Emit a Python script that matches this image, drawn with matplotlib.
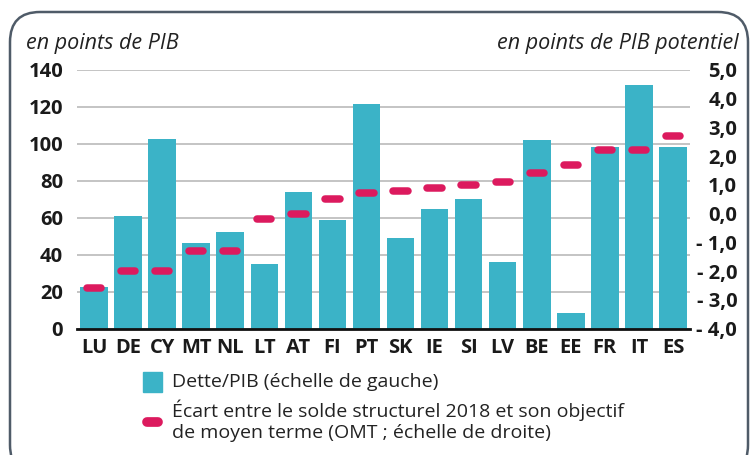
import matplotlib
matplotlib.use("Agg")
import matplotlib.pyplot as plt
from matplotlib.patches import FancyBboxPatch, Rectangle
from matplotlib.lines import Line2D
import numpy as np

countries = ["LU", "DE", "CY", "MT", "NL", "LT", "AT", "FI", "PT", "SK",
             "IE", "SI", "LV", "BE", "EE", "FR", "IT", "ES"]
dette_pib = [22.4, 61, 102.5, 46.5, 52.4, 34.8, 74, 58.8, 121.2, 49.2,
             64.9, 70.3, 36.2, 101.8, 8.7, 98.2, 131.8, 98.2]
ecart_omt = [-2.6, -2.0, -2.0, -1.3, -1.3, -0.2, 0.0, 0.5, 0.7, 0.8,
             0.9, 1.0, 1.1, 1.4, 1.7, 2.2, 2.2, 2.7]
left_ticks = [0, 20, 40, 60, 80, 100, 120, 140]
right_ticks = [-4, -3, -2, -1, 0, 1, 2, 3, 4, 5]

BAR = "#3bb3c7"
PINK = "#dc1a5e"
FONT = "Open Sans"

plt.rcParams['font.family'] = [FONT, 'DejaVu Sans']

W, H = 751, 455
fig = plt.figure(figsize=(W / 100, H / 100), dpi=100)
ax = fig.add_axes([77 / W, 1 - 328.7 / H, (690 - 77) / W, (328.7 - 69.7) / H])
ax2 = ax.twinx()

x = np.arange(len(countries))
ax.bar(x, dette_pib, width=0.81, color=BAR, zorder=2)
ax.set_xlim(-0.5, len(countries) - 0.5)
ax.set_ylim(0, 140)
ax.set_yticks(left_ticks)
ax.set_yticklabels([str(v) for v in left_ticks])
ax.yaxis.grid(True, color="#c4c4c4", linewidth=1.4, zorder=0)
ax.set_axisbelow(True)
ax.tick_params(axis='y', length=0, pad=10, labelsize=14.5, labelcolor="#1a1a1a")
ax.set_xticks(x)
ax.set_xticklabels(countries, fontweight='bold', fontsize=14.5)
ax.tick_params(axis='x', length=0, pad=7, labelcolor="#1a1a1a")
for s in ['top', 'right', 'left']:
    ax.spines[s].set_visible(False)
ax.spines['bottom'].set_linewidth(2.0)
ax.spines['bottom'].set_color("#111111")
ax.spines['bottom'].set_zorder(5)
for lab in ax.get_yticklabels():
    lab.set_fontweight('bold')

ax2.set_ylim(-4, 5)
ax2.hlines(ecart_omt, x - 0.21, x + 0.21, colors=PINK, linewidth=5.4,
           capstyle='round', zorder=4)
ax2.set_yticks(right_ticks)
def fmt(v):
    s = f"{abs(v):.1f}".replace('.', ',')
    return f"- {s}" if v < 0 else s
ax2.set_yticklabels([fmt(v) for v in right_ticks])
ax2.tick_params(axis='y', length=0, pad=34, labelsize=14.5, labelcolor="#1a1a1a")
for lab in ax2.get_yticklabels():
    lab.set_horizontalalignment('right')
    lab.set_fontweight('bold')
for s in ax2.spines.values():
    s.set_visible(False)

# axis titles
fig.text(26 / W, 1 - 44 / H, "en points de PIB", style='italic', fontsize=15.5,
         ha='left', va='center', color="#222222")
fig.text(739 / W, 1 - 44 / H, "en points de PIB potentiel", style='italic',
         fontsize=15.5, ha='right', va='center', color="#222222")

# legend
fig.patches.append(Rectangle((143 / W, 1 - 392 / H), 19 / W, 20 / H,
                             transform=fig.transFigure, color=BAR))
fig.text(172 / W, 1 - 382 / H, "Dette/PIB (échelle de gauche)", fontsize=14,
         ha='left', va='center', color="#222222")
fig.lines.append(Line2D([147 / W, 158 / W], [1 - 422 / H, 1 - 422 / H],
                        transform=fig.transFigure, color=PINK, linewidth=7,
                        solid_capstyle='round'))
fig.text(172 / W, 1 - 410 / H, "Écart entre le solde structurel 2018 et son objectif",
         fontsize=14, ha='left', va='center', color="#222222")
fig.text(172 / W, 1 - 433 / H, "de moyen terme (OMT ; échelle de droite)",
         fontsize=14, ha='left', va='center', color="#222222")

# frame
frame = FancyBboxPatch((10 / W, -20 / H), 738 / W, (455 - 12 + 20) / H,
                       boxstyle="round,pad=0,rounding_size=0.04",
                       transform=fig.transFigure, fill=False,
                       edgecolor="#4f5b68", linewidth=1.8, clip_on=False,
                       mutation_aspect=W / H)
fig.patches.append(frame)

fig.savefig("out.png", dpi=100)
